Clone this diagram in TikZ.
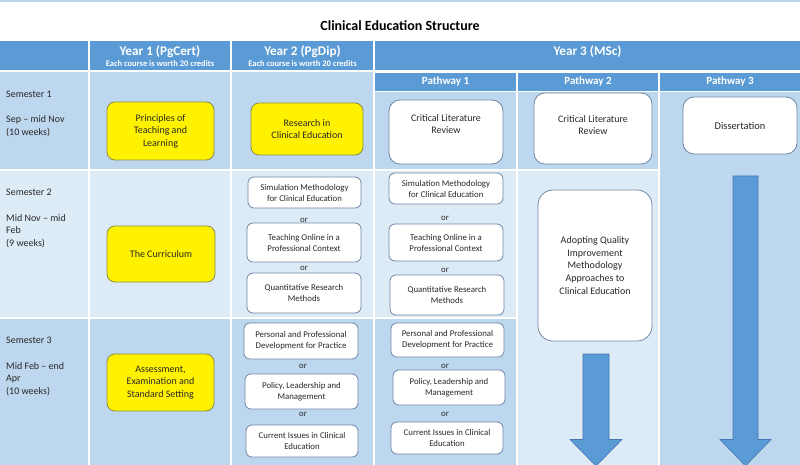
\documentclass[tikz,border=0pt]{standalone}
\usepackage{fontspec}
\setmainfont{Carlito}
\usetikzlibrary{calc}
\definecolor{hdr}{RGB}{91,155,213}
\definecolor{medc}{RGB}{189,215,238}
\definecolor{lightc}{RGB}{221,235,247}
\definecolor{ybord}{RGB}{140,140,70}
\definecolor{wbord}{RGB}{112,135,165}
\definecolor{txt}{RGB}{40,40,40}
\definecolor{arrb}{RGB}{70,120,180}
\tikzset{
  hdrtext/.style={text=white,font=\fontsize{13.2}{15}\selectfont\bfseries,inner sep=0},
  subtext/.style={text=white,font=\fontsize{8.5}{9}\selectfont\bfseries,inner sep=0},
  pathtext/.style={text=white,font=\fontsize{11}{12}\selectfont\bfseries,inner sep=0},
  semtext/.style={text=txt,font=\fontsize{10}{12.7}\selectfont,align=left,inner sep=0,anchor=west},
  ybox/.style={draw=ybord,fill=yellow,line width=0.8pt,rounded corners=8pt,text=txt,
    font=\fontsize{10}{12.6}\selectfont,align=center,inner sep=0},
  wbox/.style={draw=wbord,fill=white,line width=0.8pt,rounded corners=6pt,text=txt,
    font=\fontsize{8.8}{11}\selectfont,align=center,inner sep=0},
  bbox/.style={draw=wbord,fill=white,line width=0.8pt,rounded corners=11pt,text=txt,
    font=\fontsize{10}{12.6}\selectfont,align=center,inner sep=0},
  ortext/.style={text=txt,font=\fontsize{8.8}{11}\selectfont,inner sep=0},
  blockarrow/.style={fill=hdr,draw=arrb,line width=0.6pt},
}
\begin{document}
\begin{tikzpicture}[x=1pt,y=-1pt]
\useasboundingbox (0,0) rectangle (800,465);
\fill[white] (0,0) rectangle (800,465);
\fill[medc] (0,0) rectangle (800,2);
% title
\node[font=\fontsize{14}{16}\selectfont\bfseries,text=black,inner sep=0] (title) at (400,25.5) {Clinical Education Structure};
% header cells
\fill[hdr] (0,41) rectangle (88,70);
\fill[hdr] (90,41) rectangle (230,70);
\fill[hdr] (232,41) rectangle (373,70);
\fill[hdr] (375,41) rectangle (800,70);
\fill[hdr] (375,73.5) rectangle (516,91);
\fill[hdr] (518,73.5) rectangle (658,91);
\fill[hdr] (660,73.5) rectangle (800,91);
% row 1
\fill[medc] (0,72.5) rectangle (88,169);
\fill[medc] (90,72.5) rectangle (230,169);
\fill[medc] (232,72.5) rectangle (373,169);
\fill[medc] (375,92) rectangle (516,169);
\fill[medc] (518,92) rectangle (658,169);
\fill[medc] (660,92) rectangle (800,465);
% row 2
\fill[lightc] (0,171) rectangle (88,317);
\fill[lightc] (90,171) rectangle (230,317);
\fill[lightc] (232,171) rectangle (373,317);
\fill[lightc] (375,171) rectangle (516,317);
\fill[lightc] (518,171) rectangle (658,465);
% row 3
\fill[medc] (0,319) rectangle (88,465);
\fill[medc] (90,319) rectangle (230,465);
\fill[medc] (232,319) rectangle (373,465);
\fill[medc] (375,319) rectangle (516,465);
% header texts
\node[hdrtext] (y1) at (160,52) {Year 1 (PgCert)};
\node[subtext] (y1s) at (160,63.5) {Each course is worth 20 credits};
\node[hdrtext] (y2) at (302.5,52) {Year 2 (PgDip)};
\node[subtext] (y2s) at (302.5,63.5) {Each course is worth 20 credits};
\node[hdrtext] (y3) at (587.5,52) {Year 3 (MSc)};
\node[pathtext] (p1) at (445.5,82) {Pathway 1};
\node[pathtext] (p2) at (588,82) {Pathway 2};
\node[pathtext] (p3) at (730,82) {Pathway 3};
% semester labels
\node[semtext] (s1) at (6,114) {Semester 1\\[12.7pt]Sep -- mid Nov\\(10 weeks)};
\node[semtext] (s2) at (6,218.5) {Semester 2\\[12.7pt]Mid Nov -- mid\\Feb\\(9 weeks)};
\node[semtext] (s3) at (6,366.5) {Semester 3\\[12.7pt]Mid Feb -- end\\Apr\\(10 weeks)};
% year 1
\node[ybox,minimum width=107,minimum height=58] (ptl) at (160.5,131) {Principles of\\Teaching and\\Learning};
\node[ybox,minimum width=108,minimum height=56] (cur) at (161,254) {The Curriculum};
\node[ybox,minimum width=107,minimum height=57] (asm) at (160.5,382.5) {Assessment,\\Examination and\\Standard Setting};
% year 2
\node[ybox,minimum width=112,minimum height=52] (rce) at (307,129) {Research in\\Clinical Education};
\node[wbox,minimum width=113,minimum height=31] (simA) at (304.5,192.5) {Simulation Methodology\\for Clinical Education};
\node[ortext] (orA1) at (304,220) {or};
\node[wbox,minimum width=114,minimum height=39] (tolA) at (304,242.5) {Teaching Online in a\\Professional Context};
\node[ortext] (orA2) at (304,268) {or};
\node[wbox,minimum width=114,minimum height=40] (qrmA) at (304,293) {Quantitative Research\\Methods};
\node[wbox,minimum width=114,minimum height=36] (ppdA) at (301,341) {Personal and Professional\\Development for Practice};
\node[ortext] (orA3) at (303,366) {or};
\node[wbox,minimum width=113,minimum height=35] (plmA) at (301.5,391.5) {Policy, Leadership and\\Management};
\node[ortext] (orA4) at (303,414) {or};
\node[wbox,minimum width=112,minimum height=32] (cicA) at (302,441) {Current Issues in Clinical\\Education};
% pathway 1
\node[bbox,minimum width=114,minimum height=64] (clrB) at (446,132) {};
\node[text=txt,font=\fontsize{10}{12.6}\selectfont,align=center,inner sep=0] (clrBt) at (446,124) {Critical Literature\\Review};
\node[wbox,minimum width=114,minimum height=31] (simB) at (446,188.5) {Simulation Methodology\\for Clinical Education};
\node[ortext] (orB1) at (445,218) {or};
\node[wbox,minimum width=114,minimum height=37] (tolB) at (446,242.5) {Teaching Online in a\\Professional Context};
\node[ortext] (orB2) at (445,270) {or};
\node[wbox,minimum width=114,minimum height=40] (qrmB) at (447,295) {Quantitative Research\\Methods};
\node[wbox,minimum width=113,minimum height=34] (ppdB) at (447.5,340) {Personal and Professional\\Development for Practice};
\node[ortext] (orB3) at (445,366) {or};
\node[wbox,minimum width=112,minimum height=35] (plmB) at (449,387.5) {Policy, Leadership and\\Management};
\node[ortext] (orB4) at (445,414) {or};
\node[wbox,minimum width=112,minimum height=32] (cicB) at (447,438) {Current Issues in Clinical\\Education};
% pathway 2
\node[bbox,minimum width=118,minimum height=71] (clrC) at (593,128.5) {};
\node[text=txt,font=\fontsize{10}{12.6}\selectfont,align=center,inner sep=0] (clrCt) at (593,125) {Critical Literature\\Review};
\node[bbox,rounded corners=15pt,minimum width=114,minimum height=151] (aqi) at (595,265.5) {Adopting Quality\\Improvement\\Methodology\\Approaches to\\Clinical Education};
% pathway 3
\node[bbox,font=\fontsize{10.4}{12.6}\selectfont,minimum width=114,minimum height=57] (diss) at (740,125.5) {Dissertation};
% block arrows
\coordinate (a2top) at (596,354);
\coordinate (a2tip) at (596,466);
\coordinate (a3top) at (745.5,176);
\coordinate (a3tip) at (745.5,466);
\draw[blockarrow] ($(a2top)+(-13,0)$) -- ($(a2top)+(13,0)$) -- (609,439.5) -- (622,439.5) -- (a2tip) -- (570,439.5) -- (583,439.5) -- cycle;
\draw[blockarrow] ($(a3top)+(-12.5,0)$) -- ($(a3top)+(12.5,0)$) -- (758,439.5) -- (771,439.5) -- (a3tip) -- (720,439.5) -- (733,439.5) -- cycle;
\end{tikzpicture}
\end{document}
